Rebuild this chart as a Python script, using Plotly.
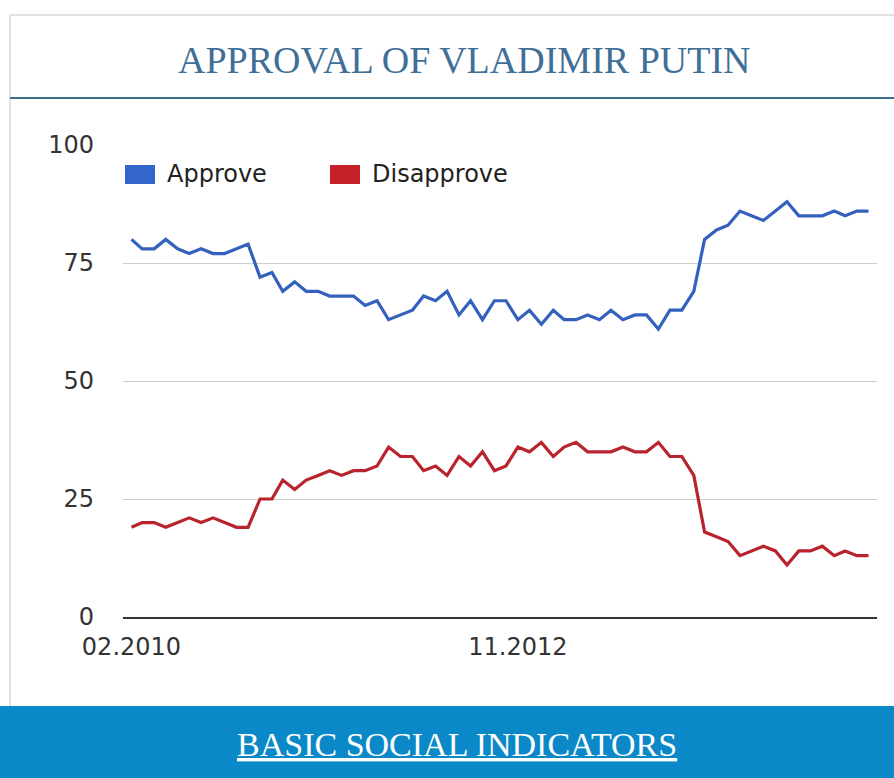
import pandas as pd
import plotly.graph_objects as go

# ---- data (monthly, Feb 2010 - May 2015) ----
months = pd.date_range("2010-02-01", periods=64, freq="MS")
approve = [80, 78, 78, 80, 78, 77, 78, 77, 77, 78, 79,
           72, 73, 69, 71, 69, 69, 68, 68, 68, 66, 67,
           63, 64, 65, 68, 67, 69, 64, 67, 63, 67, 67, 63, 65, 62, 65, 63, 63, 64, 63, 65,
           63, 64, 64, 61, 65, 65, 69, 80, 82, 83, 86, 85, 84, 86, 88, 85, 85, 85, 86, 85, 86, 86]
disapprove = [19, 20, 20, 19, 20, 21, 20, 21, 20, 19, 19,
              25, 25, 29, 27, 29, 30, 31, 30, 31, 31, 32,
              36, 34, 34, 31, 32, 30, 34, 32, 35, 31, 32, 36, 35, 37, 34, 36, 37, 35, 35, 35,
              36, 35, 35, 37, 34, 34, 30, 18, 17, 16, 13, 14, 15, 14, 11, 14, 14, 15, 13, 14, 13, 13]
series_names = ["Approve", "Disapprove"]
x_tick_vals = ["2010-02-01", "2012-11-01"]
x_tick_text = ["02.2010", "11.2012"]
y_tick_vals = [0, 25, 50, 75, 100]
title_text = "APPROVAL OF VLADIMIR PUTIN"
footer_text = "BASIC SOCIAL INDICATORS"

# ---- style ----
W, H = 894, 778
L, R, T, B = 123, 17, 145, 161
line_colors = ["#3461bd", "#b9232e"]
swatch_colors = ["#3366cc", "#c4202a"]
SANS = "DejaVu Sans"
SERIF = "Liberation Serif"

pw = W - L - R
ph = H - T - B


def px_x(x):
    return (x - L) / pw


def px_y(y):
    return (H - B - y) / ph


fig = go.Figure()
for name, vals, col in zip(series_names, [approve, disapprove], line_colors):
    fig.add_trace(go.Scatter(x=months, y=vals, mode="lines", name=name,
                             line=dict(color=col, width=3.2), showlegend=False))

shapes = [
    # outer light border
    dict(type="line", xref="paper", yref="paper", x0=px_x(10), x1=px_x(W), y0=px_y(15), y1=px_y(15),
         line=dict(color="#e2e2e2", width=2)),
    dict(type="line", xref="paper", yref="paper", x0=px_x(10), x1=px_x(10), y0=px_y(15), y1=px_y(706),
         line=dict(color="#e2e2e2", width=2)),
    # title underline
    dict(type="line", xref="paper", yref="paper", x0=px_x(10), x1=px_x(W), y0=px_y(98), y1=px_y(98),
         line=dict(color="#3d6d88", width=2)),
    # footer bar
    dict(type="rect", xref="paper", yref="paper", x0=px_x(0), x1=px_x(W), y0=px_y(706), y1=px_y(H),
         fillcolor="#0a88c8", line=dict(width=0), layer="below"),
]
annotations = [
    dict(text=title_text, xref="paper", yref="paper", x=px_x(464), y=px_y(60),
         xanchor="center", yanchor="middle", showarrow=False,
         font=dict(family=SERIF, size=38, color="#3f6f96")),
    dict(text="<u>" + footer_text + "</u>", xref="paper", yref="paper", x=px_x(457), y=px_y(744),
         xanchor="center", yanchor="middle", showarrow=False,
         font=dict(family=SERIF, size=34, color="#ffffff")),
]
# manual legend
leg_x = [125, 330]
for i, name in enumerate(series_names):
    shapes.append(dict(type="rect", xref="paper", yref="paper",
                       x0=px_x(leg_x[i]), x1=px_x(leg_x[i] + 30), y0=px_y(165), y1=px_y(184),
                       fillcolor=swatch_colors[i], line=dict(width=0)))
    annotations.append(dict(text=name, xref="paper", yref="paper", x=px_x(leg_x[i] + 40), y=px_y(174),
                            xanchor="left", yanchor="middle", showarrow=False,
                            font=dict(family=SANS, size=24, color="#222222")))

fig.update_layout(
    width=W, height=H,
    margin=dict(l=L, r=R, t=T, b=B, pad=0),
    paper_bgcolor="white", plot_bgcolor="white",
    shapes=shapes, annotations=annotations,
    showlegend=False,
    xaxis=dict(type="date", range=["2010-01-10", "2015-05-23"],
               tickvals=x_tick_vals, ticktext=x_tick_text,
               showgrid=False, zeroline=False, showline=True, linecolor="#333333", linewidth=2,
               ticks="", ticklabelstandoff=7,
               tickfont=dict(family=SANS, size=24, color="#333333")),
    yaxis=dict(range=[0, 100], tickvals=y_tick_vals, showgrid=True, gridcolor="#cccccc", gridwidth=1,
               zeroline=False, showline=False, ticks="", ticklabelstandoff=28,
               tickfont=dict(family=SANS, size=24, color="#333333")),
)

fig.write_html("out.html", config={"displayModeBar": False},
               post_script="document.body.style.margin='0';document.body.style.overflow='hidden';")
